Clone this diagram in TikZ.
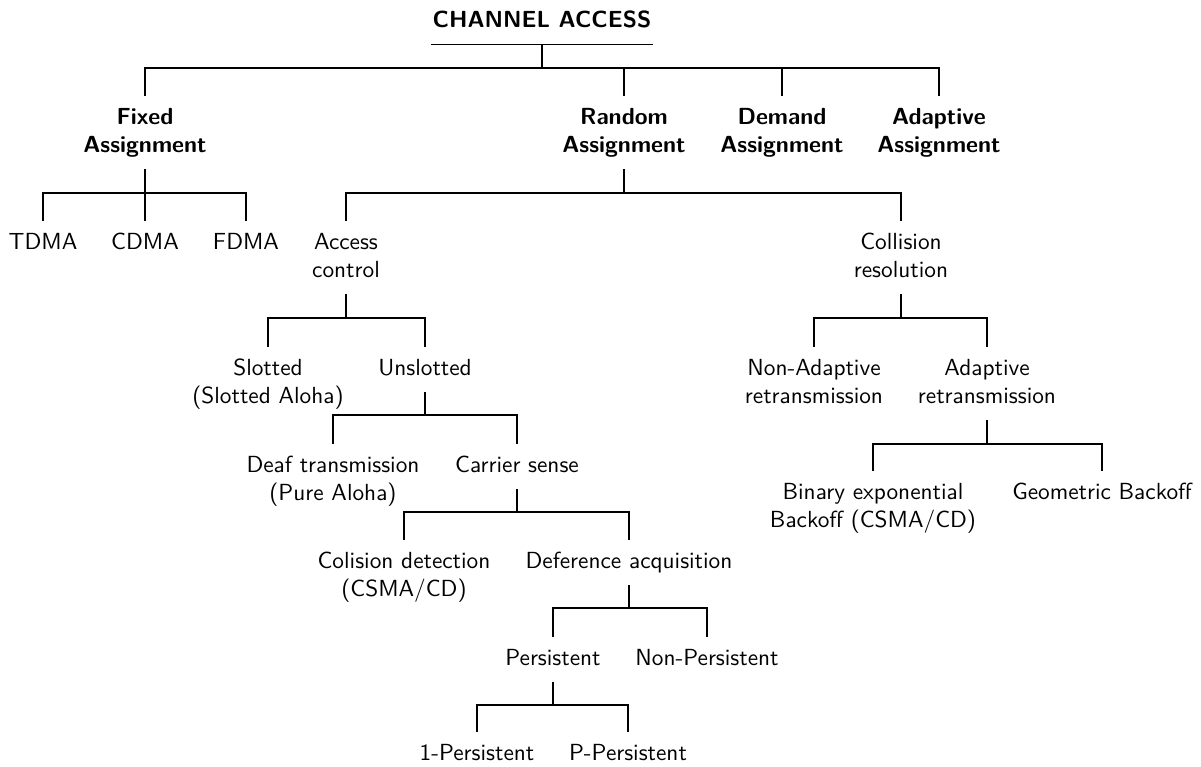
\documentclass[tikz,border=0pt]{standalone}
\usepackage{fontspec}
\setsansfont{lmsans10-regular.otf}[BoldFont=lmsans10-bold.otf]
\begin{document}
\begin{tikzpicture}[x=1pt,y=-1pt]
\tikzset{
  lab/.style={font=\fontsize{23.3}{28}\selectfont\sffamily, align=center, inner xsep=0pt, inner ysep=13.2pt, text depth=3.8pt, anchor=base},
  one/.style={lab, text height=15.3pt},
  two/.style={lab, text height=43.3pt},
  bold/.style={font=\fontsize{23.3}{28}\selectfont\sffamily\bfseries},
  wire/.style={line width=1.4pt, line cap=rect}
}
\useasboundingbox (0,0) rectangle (1201,766);

% title
\node[one,bold,inner xsep=1pt] (t) at (542,27) {CHANNEL ACCESS};
\draw[wire] (t.south west) -- (t.south east);

% level 1 (two-line nodes placed at their last baseline)
\node[two,bold] (fa) at (145,152) {Fixed\\Assignment};
\node[two,bold] (ra) at (624,152) {Random\\Assignment};
\node[two,bold] (da) at (782,152) {Demand\\Assignment};
\node[two,bold] (ada) at (939,152) {Adaptive\\Assignment};
\coordinate (b1) at (542,68);
\draw[wire] (t.south) -- (b1);
\draw[wire] (fa.north) |- (b1) -| (ada.north);
\draw[wire] (ra.north) -- (ra.north |- b1);
\draw[wire] (da.north) -- (da.north |- b1);

% fixed
\node[one] (tdma) at (43,249) {TDMA};
\node[one] (cdma) at (145,249) {CDMA};
\node[one] (fdma) at (246,249) {FDMA};
\coordinate (b2) at (145,193);
\draw[wire] (fa.south) -- (b2);
\draw[wire] (tdma.north) |- (b2) -| (fdma.north);
\draw[wire] (cdma.north) -- (cdma.north |- b2);

% random
\node[two] (ac) at (346,277) {Access\\control};
\node[two] (cr) at (901,277) {Collision\\resolution};
\coordinate (b3) at (624,193);
\draw[wire] (ra.south) -- (b3);
\draw[wire] (ac.north) |- (b3) -| (cr.north);

% access control
\node[two] (sl) at (268,403) {Slotted\\(Slotted Aloha)};
\node[one] (un) at (425,375) {Unslotted};
\coordinate (b4) at (346,318);
\draw[wire] (ac.south) -- (b4);
\draw[wire] (sl.north) |- (b4) -| (un.north);

% unslotted
\node[two] (deaf) at (333,500) {Deaf transmission\\(Pure Aloha)};
\node[one] (cs) at (517,472) {Carrier sense};
\coordinate (b5) at (425,415);
\draw[wire] (un.south) -- (b5);
\draw[wire] (deaf.north) |- (b5) -| (cs.north);

% carrier sense
\node[two] (cd) at (404,596) {Colision detection\\(CSMA/CD)};
\node[one] (dq) at (629,568) {Deference acquisition};
\coordinate (b6) at (517,512);
\draw[wire] (cs.south) -- (b6);
\draw[wire] (cd.north) |- (b6) -| (dq.north);

% deference
\node[one] (pe) at (553,665) {Persistent};
\node[one] (np) at (707,665) {Non-Persistent};
\coordinate (b7) at (629,608);
\draw[wire] (dq.south) -- (b7);
\draw[wire] (pe.north) |- (b7) -| (np.north);

% persistent
\node[one] (p1) at (477,760) {1-Persistent};
\node[one] (pp) at (628,760) {P-Persistent};
\coordinate (b8) at (553,705);
\draw[wire] (pe.south) -- (b8);
\draw[wire] (p1.north) |- (b8) -| (pp.north);

% collision resolution
\node[two] (na) at (814,403) {Non-Adaptive\\retransmission};
\node[two] (ar) at (987,403) {Adaptive\\retransmission};
\coordinate (b9) at (901,318);
\draw[wire] (cr.south) -- (b9);
\draw[wire] (na.north) |- (b9) -| (ar.north);

% adaptive retransmission
\node[two] (be) at (873,527) {Binary exponential\\Backoff (CSMA/CD)};
\node[one] (gb) at (1102,499) {Geometric Backoff};
\coordinate (b10) at (987,444);
\draw[wire] (ar.south) -- (b10);
\draw[wire] (be.north) |- (b10) -| (gb.north);
\end{tikzpicture}
\end{document}
